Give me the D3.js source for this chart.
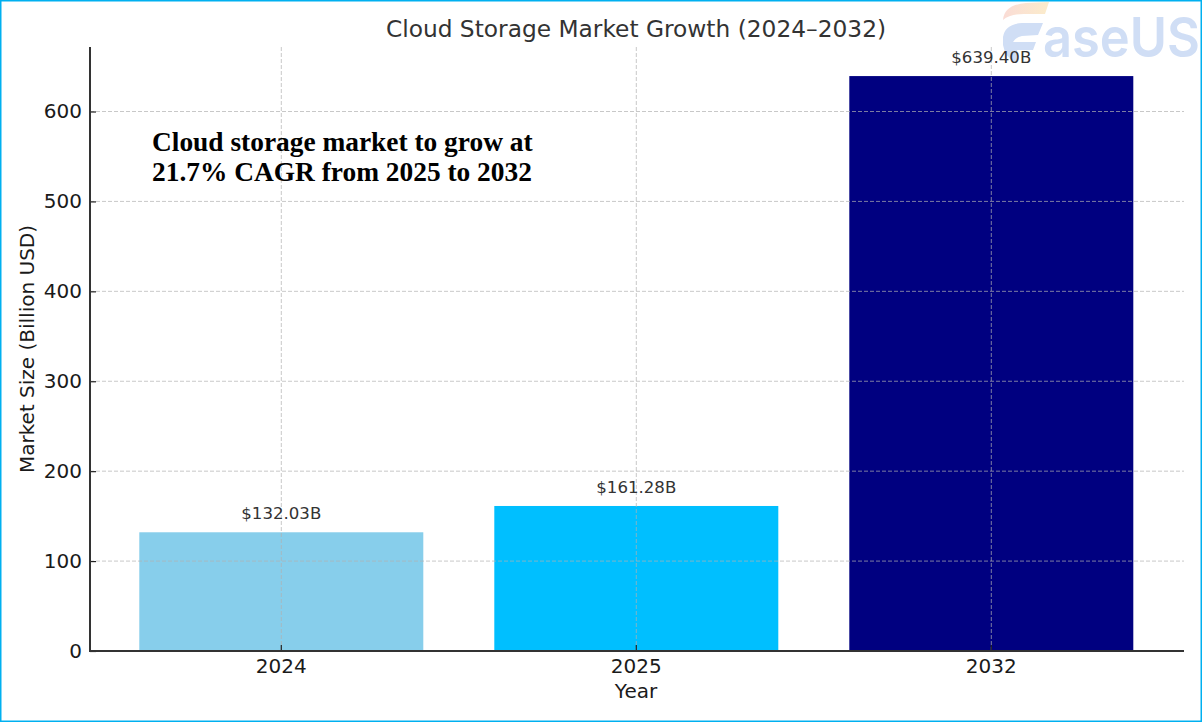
<!DOCTYPE html>
<html>
<head>
<meta charset="utf-8">
<script src="https://cdn.jsdelivr.net/npm/d3@7"></script>
<style>
  html, body { margin: 0; padding: 0; background: #fff; }
  svg { display: block; }
  text { font-family: "DejaVu Sans", sans-serif; }
</style>
</head>
<body>
<svg id="chart" width="1202" height="722"></svg>
<script>
// values
var years = ["2024", "2025", "2032"];
var marketSize = [132.03, 161.28, 639.40];
var barColors = ["#87ceeb", "#00bfff", "#000080"];
var yTicks = [0, 100, 200, 300, 400, 500, 600];
var noteLines = ["Cloud storage market to grow at", "21.7% CAGR from 2025 to 2032"];

var svg = d3.select("#chart");

// image border
svg.append("rect")
  .attr("x", 0.5).attr("y", 0.5)
  .attr("width", 1201).attr("height", 721)
  .attr("fill", "#fff")
  .attr("stroke", "#00b0f0")
  .attr("stroke-width", 2);

var plot = { left: 90, right: 1184, top: 47, bottom: 651 };

var x = d3.scaleBand()
  .domain(years)
  .range([103.8, 1168.8])
  .paddingInner(0.2)
  .paddingOuter(0.1);

var y = d3.scaleLinear()
  .domain([0, 600])
  .range([plot.bottom, 111.5]);

// watermark logo, behind the chart
var logo = svg.append("g").attr("class", "logo");
var defs = svg.append("defs");
var swoosh = defs.append("linearGradient").attr("id", "swoosh");
swoosh.append("stop").attr("offset", "0%").attr("stop-color", "#fadcd6");
swoosh.append("stop").attr("offset", "100%").attr("stop-color", "#fbeccb");

logo.append("path")
  .attr("d", "M1003 20 Q1004 5 1026 3 L1049 2 L1045 14 L1024 14 Q1010 14 1003 20 Z")
  .attr("fill", "url(#swoosh)");
logo.append("path")
  .attr("d", "M1003 37 Q1005 24 1022 23 L1043 23 L1038 35 L1022 36 Q1016 37 1013 42 L1036 42 L1033 50 L1017 50 L1017 63 Q1005 58 1003 45 Z")
  .attr("fill", "#d0def5");
var logoText = logo.append("text")
  .attr("transform", "translate(1043,57)")
  .attr("font-size", 55)
  .attr("font-weight", 600)
  .attr("fill", "#d0def5")
  .style("font-family", "Inter")
  .text("aseUS");
// squeeze the wordmark so it stops just inside the border
logoText.attr("transform", "translate(1043,57) scale(" + (157 / logoText.node().getBBox().width) + ",1)");

// bars
svg.append("g").selectAll("rect")
  .data(years)
  .enter().append("rect")
  .attr("x", function(d) { return x(d); })
  .attr("y", function(d, i) { return y(marketSize[i]); })
  .attr("width", x.bandwidth())
  .attr("height", function(d, i) { return plot.bottom - y(marketSize[i]); })
  .attr("fill", function(d, i) { return barColors[i]; });

// dashed grid sits over the bars
var grid = svg.append("g")
  .attr("stroke", "#b0b0b0")
  .attr("stroke-opacity", 0.7)
  .attr("stroke-width", 1)
  .attr("stroke-dasharray", "4,2");

grid.selectAll(".hline")
  .data(yTicks.slice(1))
  .enter().append("line")
  .attr("x1", plot.left).attr("x2", plot.right)
  .attr("y1", function(d) { return y(d); })
  .attr("y2", function(d) { return y(d); });

grid.selectAll(".vline")
  .data(years)
  .enter().append("line")
  .attr("x1", function(d) { return x(d) + x.bandwidth() / 2; })
  .attr("x2", function(d) { return x(d) + x.bandwidth() / 2; })
  .attr("y1", plot.top).attr("y2", plot.bottom);

// axes
var xAxis = svg.append("g")
  .attr("transform", "translate(0," + plot.bottom + ")")
  .call(d3.axisBottom(x).tickSize(6).tickPadding(5));

var yAxis = svg.append("g")
  .attr("transform", "translate(" + plot.left + ",0)")
  .call(d3.axisLeft(y).tickValues(yTicks).tickSize(6).tickPadding(2));

[xAxis, yAxis].forEach(function(axis) {
  axis.select(".domain").remove();
  axis.selectAll(".tick line").attr("stroke", "#222").attr("stroke-width", 1.2);
  axis.selectAll(".tick text")
    .attr("fill", "#1a1a1a")
    .style("font-family", '"DejaVu Sans"')
    .style("font-size", "20px");
});
// ticks point into the plot here
xAxis.selectAll(".tick line").attr("y2", -6);
xAxis.selectAll(".tick text").attr("y", 8);
yAxis.selectAll(".tick line").attr("x2", 6);

// left and bottom spines only
svg.append("line")
  .attr("x1", plot.left).attr("x2", plot.left)
  .attr("y1", plot.top).attr("y2", plot.bottom + 1)
  .attr("stroke", "#333").attr("stroke-width", 2);
svg.append("line")
  .attr("x1", plot.left - 1).attr("x2", plot.right)
  .attr("y1", plot.bottom).attr("y2", plot.bottom)
  .attr("stroke", "#333").attr("stroke-width", 2);

// value labels
svg.append("g").selectAll("text")
  .data(years)
  .enter().append("text")
  .attr("x", function(d) { return x(d) + x.bandwidth() / 2; })
  .attr("y", function(d, i) { return y(marketSize[i]) - 13; })
  .attr("text-anchor", "middle")
  .attr("font-size", 16.6)
  .attr("fill", "#333")
  .text(function(d, i) { return "$" + marketSize[i].toFixed(2) + "B"; });

// title and axis labels
svg.append("text")
  .attr("x", 636).attr("y", 37)
  .attr("text-anchor", "middle")
  .attr("font-size", 23.3)
  .attr("fill", "#333")
  .text("Cloud Storage Market Growth (2024–2032)");

svg.append("text")
  .attr("x", 636).attr("y", 698)
  .attr("text-anchor", "middle")
  .attr("font-size", 20)
  .attr("fill", "#1a1a1a")
  .text("Year");

svg.append("text")
  .attr("transform", "translate(34,349) rotate(-90)")
  .attr("text-anchor", "middle")
  .attr("font-size", 20)
  .attr("fill", "#1a1a1a")
  .text("Market Size (Billion USD)");

// annotation
svg.append("g").selectAll("text")
  .data(noteLines)
  .enter().append("text")
  .attr("x", 152)
  .attr("y", function(d, i) { return 151 + i * 30; })
  .attr("font-size", 27.4)
  .attr("font-weight", "bold")
  .attr("fill", "#000")
  .style("font-family", '"Liberation Serif"')
  .text(function(d) { return d; });
</script>
</body>
</html>
